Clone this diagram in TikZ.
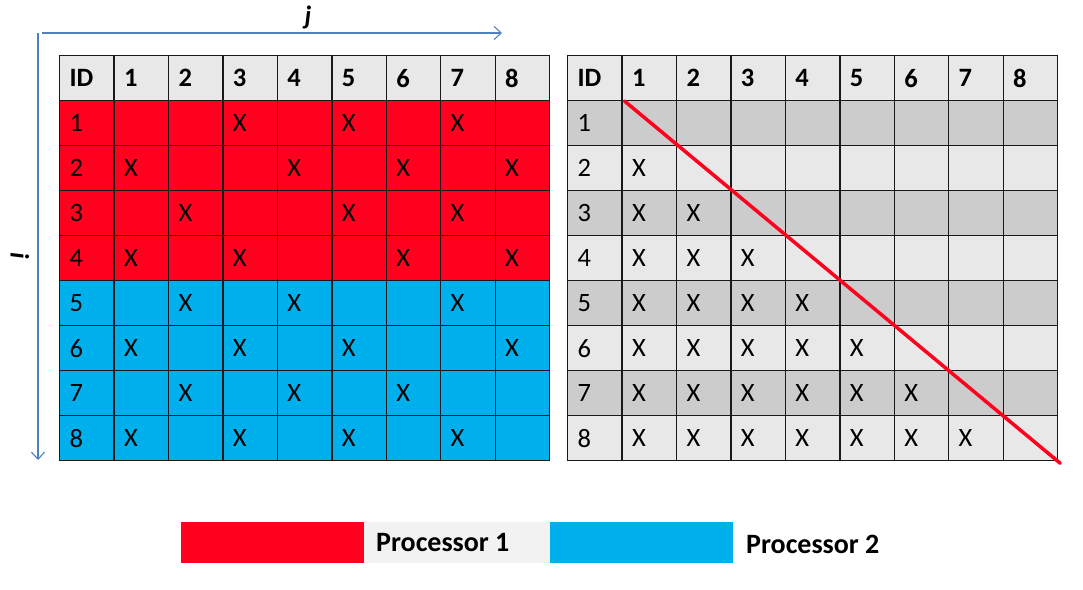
\documentclass[tikz,border=0pt]{standalone}
\usepackage{fontspec}
\setmainfont{Carlito}
\usetikzlibrary{arrows.meta}
\definecolor{pred}{RGB}{255,0,30}
\definecolor{pblue}{RGB}{0,176,236}
\definecolor{hgray}{RGB}{232,232,232}
\definecolor{dgray}{RGB}{204,204,204}
\definecolor{lgray}{RGB}{242,242,242}
\definecolor{axisblue}{RGB}{79,129,189}
\begin{document}
\begin{tikzpicture}[x=1pt,y=-1pt,
  every node/.style={font=\fontsize{26.5}{30}\selectfont},
  cell/.style={draw=black!90, line width=1.3pt, minimum width=54.44pt, minimum height=45pt,
    text width=34.44pt, inner xsep=10pt, inner ysep=0pt, align=left, anchor=north west},
  xtext/.style={cell, draw=none, fill=none, anchor=center},
  hdr/.style={font=\fontsize{26.5}{30}\selectfont\bfseries},
  axis/.style={draw=axisblue, line width=1.1pt, -{Straight Barb[length=7pt,width=13pt]}},
  legbox/.style={draw=none, minimum height=41pt, inner sep=0pt, anchor=north west}]
\useasboundingbox (0,0) rectangle (1083,589);

% ---------- left table ----------
\foreach \c in {0,...,8}{
  \pgfmathsetmacro\xl{59+\c*54.44}
  \node[cell, fill=hgray, hdr] (L-0-\c) at (\xl,55) {\ifnum\c=0 ID\else\c\fi};
}
\foreach \r in {1,...,8}{
  \pgfmathsetmacro\yt{55+\r*45}
  \ifnum\r<5 \def\rc{pred}\else\def\rc{pblue}\fi
  \foreach \c in {0,...,8}{
    \pgfmathsetmacro\xl{59+\c*54.44}
    \node[cell, fill=\rc] (L-\r-\c) at (\xl,\yt) {\ifnum\c=0 \r\fi};
  }
}
\foreach \r/\cs in {1/{3,5,7},2/{1,4,6,8},3/{2,5,7},4/{1,3,6,8},5/{2,4,7},6/{1,3,5,8},7/{2,4,6},8/{1,3,5,7}}{
  \foreach \c in \cs {
    \node[xtext] (LX-\r-\c) at (L-\r-\c.center) {X};
  }
}

% ---------- right table ----------
\foreach \c in {0,...,8}{
  \pgfmathsetmacro\xl{567+\c*54.44}
  \node[cell, fill=hgray, hdr] (R-0-\c) at (\xl,55) {\ifnum\c=0 ID\else\c\fi};
}
\foreach \r in {1,...,8}{
  \pgfmathsetmacro\yt{55+\r*45}
  \ifodd\r \def\rc{dgray}\else\def\rc{hgray}\fi
  \foreach \c in {0,...,8}{
    \pgfmathsetmacro\xl{567+\c*54.44}
    \node[cell, fill=\rc] (R-\r-\c) at (\xl,\yt) {\ifnum\c=0 \r\else\ifnum\c<\r X\fi\fi};
  }
}
\coordinate (D1) at ([shift={(3,1)}]R-1-1.north west);
\coordinate (D2) at ([shift={(2,2)}]R-8-8.south east);
\draw[pred, line width=3.5pt, line cap=round] (D1) -- (D2);

% ---------- axes ----------
\coordinate (O) at (38,33);
\coordinate (OJ) at (42,33);
\coordinate (JE) at (502,33);
\coordinate (IE) at (38,460);
\draw[axis] (OJ) -- (JE);
\draw[axis] (O) -- (IE);
\node[font=\fontsize{26.5}{30}\selectfont\bfseries\itshape] (jlab) at (308,17) {j};
\node[font=\fontsize{26.5}{30}\selectfont\bfseries\itshape, rotate=-90] (ilab) at (20,256) {i};

% ---------- legend ----------
\node[legbox, fill=pred, minimum width=183pt] (leg1) at (181,522) {};
\node[legbox, fill=lgray, minimum width=186pt] (leg2) at (364,522) {};
\node[legbox, fill=pblue, minimum width=183pt] (leg3) at (550,522) {};
\node[hdr, anchor=west, inner xsep=0pt, font=\fontsize{28}{32}\selectfont\bfseries] (leg2t) at ([xshift=12pt]leg2.west) {Processor 1};
\node[hdr, anchor=west, inner xsep=0pt, font=\fontsize{28}{32}\selectfont\bfseries] (leg4t) at (746,544) {Processor 2};
\end{tikzpicture}
\end{document}
